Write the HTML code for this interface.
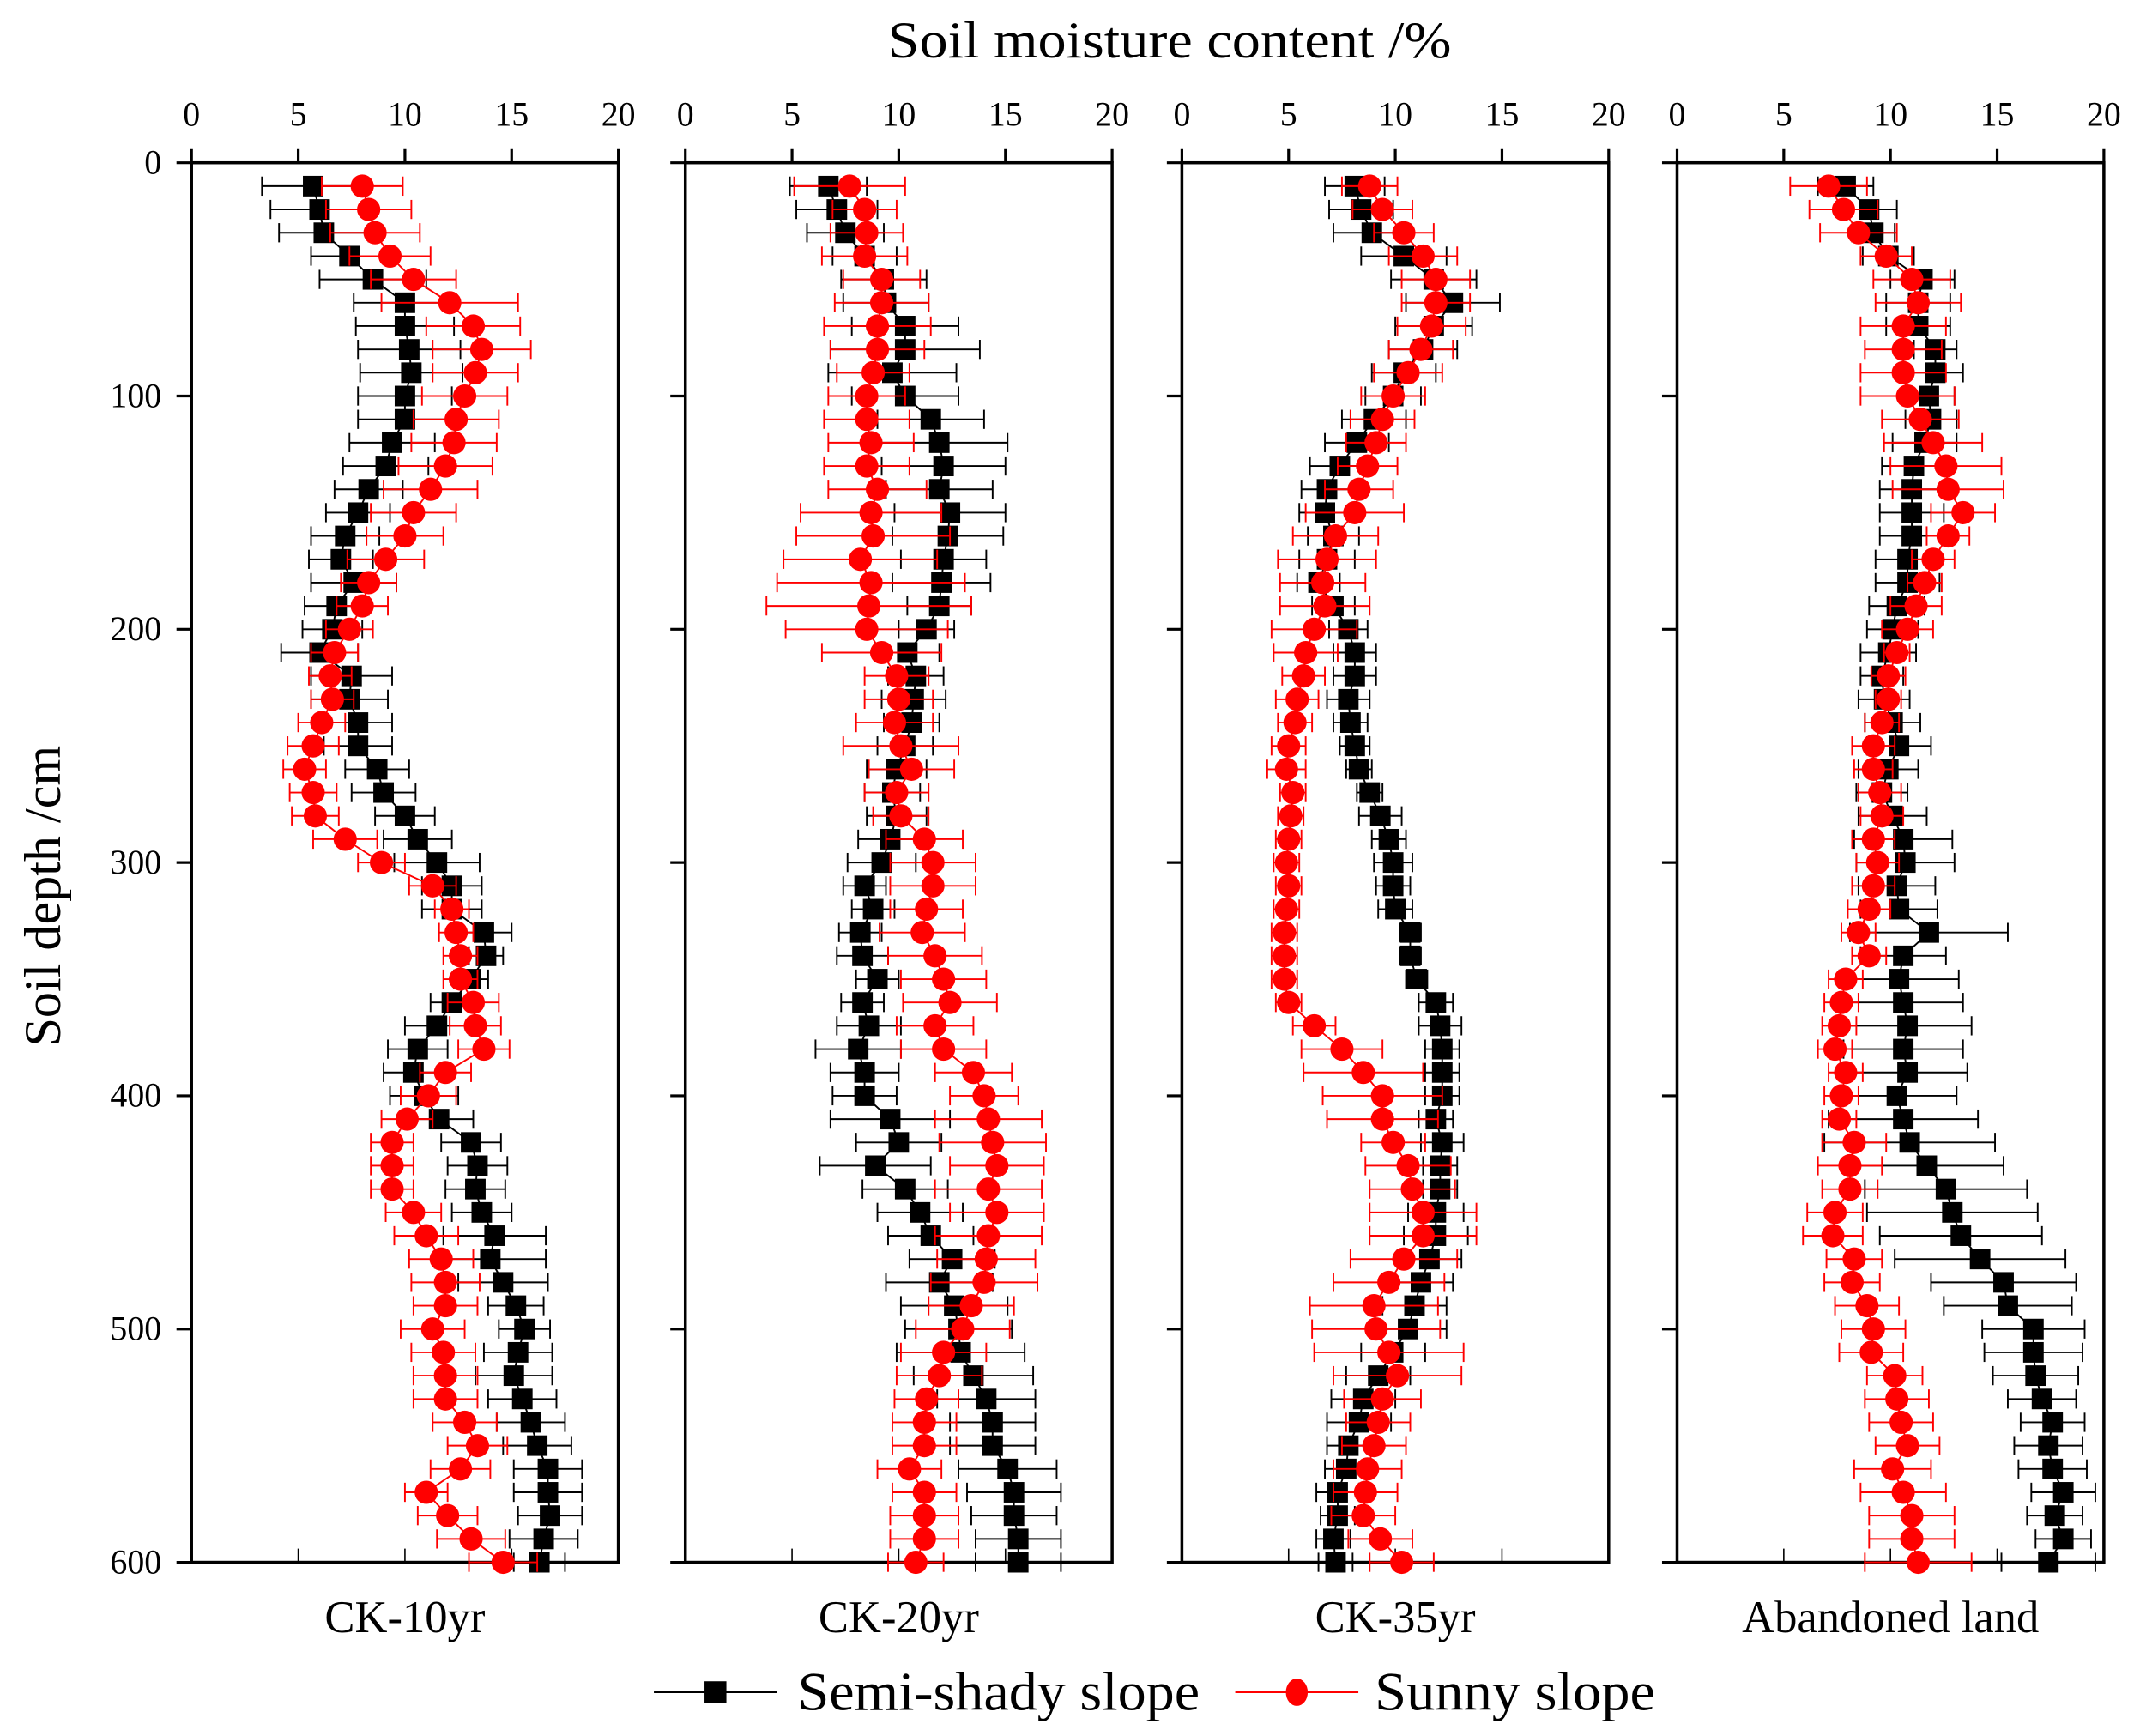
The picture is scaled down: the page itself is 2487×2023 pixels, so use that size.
<!DOCTYPE html>
<html><head><meta charset="utf-8"><style>
html,body{margin:0;padding:0;background:#fff}
svg{display:block}
text{font-family:"Liberation Serif",serif;fill:#000}
</style></head><body>
<svg id="chart" width="2487" height="2023" viewBox="0 0 1560 1269" xmlns="http://www.w3.org/2000/svg">
<text x="855" y="42" font-size="38" text-anchor="middle" textLength="412" lengthAdjust="spacingAndGlyphs">Soil moisture content /%</text>
<text transform="translate(44,655) rotate(-90)" font-size="38" text-anchor="middle" textLength="220" lengthAdjust="spacingAndGlyphs">Soil depth /cm</text>
<g id="plots"></g>
<g>
<line x1="478" y1="1237" x2="568" y2="1237" stroke="#000" stroke-width="1.2"/>
<rect x="515" y="1229" width="16" height="16" fill="#000"/>
<text x="583" y="1250" font-size="40" textLength="294" lengthAdjust="spacingAndGlyphs">Semi-shady slope</text>
<line x1="903" y1="1237" x2="993" y2="1237" stroke="#f00" stroke-width="1.2"/>
<ellipse cx="948" cy="1237" rx="8" ry="10" fill="#f00"/>
<text x="1005" y="1250" font-size="40" textLength="205" lengthAdjust="spacingAndGlyphs">Sunny slope</text>
</g>
</svg>
<script>
const panelNames = ["CK-10yr","CK-20yr","CK-35yr","Abandoned land"];
const xTicks = [0,5,10,15,20];
const yTicks = [0,100,200,300,400,500,600];
const depths = [10,20,30,40,50,60,70,80,90,100,110,120,130,140,150,160,170,180,190,200,210,220,230,240,250,260,270,280,290,300,310,320,330,340,350,360,370,380,390,400,410,420,430,440,450,460,470,480,490,500,510,520,530,540,550,560,570,580,590,600];
const shady1 = [5.7,6.0,6.2,7.4,8.5,10.0,10.0,10.2,10.3,10.0,10.0,9.4,9.1,8.3,7.8,7.2,7.0,7.6,6.8,6.6,6.0,7.5,7.4,7.8,7.8,8.7,9.0,10.0,10.6,11.5,12.2,12.2,13.7,13.8,13.1,12.2,11.5,10.6,10.4,10.9,11.6,13.1,13.4,13.3,13.6,14.2,14.0,14.6,15.2,15.6,15.3,15.1,15.5,15.9,16.2,16.7,16.7,16.8,16.5,16.3];
const sunny1 = [8.0,8.3,8.6,9.3,10.4,12.1,13.2,13.6,13.3,12.8,12.4,12.3,11.9,11.2,10.4,10.0,9.1,8.3,8.0,7.4,6.7,6.5,6.6,6.1,5.7,5.3,5.7,5.8,7.2,8.9,11.3,12.2,12.4,12.6,12.6,13.2,13.3,13.7,11.9,11.1,10.1,9.4,9.4,9.4,10.4,11.0,11.7,11.9,11.9,11.3,11.8,11.9,11.9,12.8,13.4,12.6,11.0,12.0,13.1,14.6];
const shady2 = [6.7,7.1,7.5,8.4,9.3,9.4,10.3,10.3,9.7,10.3,11.5,11.9,12.1,11.9,12.4,12.3,12.1,12.0,11.9,11.3,10.4,10.8,10.7,10.6,10.3,9.9,9.7,9.9,9.6,9.2,8.4,8.8,8.2,8.3,9.0,8.3,8.6,8.1,8.4,8.4,9.6,10.0,8.9,10.3,11.0,11.5,12.5,11.9,12.6,12.8,12.9,13.5,14.1,14.4,14.4,15.1,15.4,15.4,15.6,15.6];
const sunny2 = [7.7,8.4,8.5,8.4,9.2,9.2,9.0,9.0,8.8,8.5,8.5,8.7,8.5,9.0,8.7,8.8,8.2,8.7,8.6,8.5,9.2,9.9,10.0,9.8,10.1,10.6,9.9,10.1,11.2,11.6,11.6,11.3,11.1,11.7,12.1,12.4,11.7,12.1,13.5,14.0,14.2,14.4,14.6,14.2,14.6,14.2,14.1,14.0,13.4,13.0,12.1,11.9,11.3,11.2,11.2,10.5,11.2,11.2,11.2,10.8];
const shady3 = [8.1,8.4,8.9,10.4,11.8,12.7,11.8,11.3,10.4,9.9,9.0,8.2,7.4,6.8,6.7,7.1,6.8,6.4,7.1,7.8,8.1,8.1,7.8,7.9,8.1,8.3,8.8,9.3,9.7,9.9,9.9,10.0,10.7,10.7,11.0,11.9,12.1,12.2,12.2,12.2,11.9,12.2,12.1,12.1,11.9,11.9,11.6,11.2,10.9,10.6,9.9,9.2,8.5,8.3,7.8,7.7,7.3,7.3,7.1,7.2];
const sunny3 = [8.8,9.4,10.4,11.3,11.9,11.9,11.7,11.2,10.6,9.9,9.4,9.1,8.7,8.3,8.1,7.2,6.8,6.6,6.7,6.2,5.8,5.7,5.4,5.3,5.0,4.9,5.2,5.1,5.0,4.9,5.0,4.9,4.8,4.8,4.8,5.0,6.2,7.5,8.5,9.4,9.4,9.9,10.6,10.8,11.3,11.3,10.4,9.7,9.0,9.1,9.7,10.1,9.4,9.2,9.0,8.7,8.6,8.5,9.3,10.3];
const shady4 = [7.9,9.0,9.2,9.9,11.5,11.3,11.3,12.1,12.1,11.8,11.9,11.6,11.1,11.0,11.0,11.0,10.8,10.8,10.3,10.1,9.9,9.6,9.7,10.1,10.4,9.9,9.6,10.1,10.6,10.7,10.3,10.4,11.8,10.6,10.4,10.6,10.8,10.6,10.8,10.3,10.6,10.9,11.7,12.6,12.9,13.3,14.2,15.3,15.5,16.7,16.7,16.8,17.1,17.6,17.4,17.6,18.1,17.7,18.1,17.4];
const sunny4 = [7.1,7.8,8.5,9.8,11.0,11.3,10.6,10.6,10.6,10.8,11.4,12.0,12.6,12.7,13.4,12.7,12.0,11.6,11.2,10.8,10.3,9.9,9.9,9.6,9.2,9.2,9.5,9.6,9.2,9.4,9.2,9.0,8.5,9.0,7.9,7.7,7.6,7.4,7.9,7.7,7.6,8.3,8.1,8.1,7.4,7.3,8.3,8.2,8.9,9.2,9.1,10.2,10.3,10.5,10.8,10.1,10.6,11.0,11.0,11.3];
const shadyErr1 = [2.4,2.3,2.1,1.8,2.5,2.4,2.3,2.4,2.4,2.2,2.2,2.0,2.0,1.6,1.5,1.6,1.5,2.0,1.5,1.4,1.8,1.9,1.8,1.6,1.6,1.5,1.5,1.4,1.6,2.0,1.4,1.4,1.3,0.8,0.8,1.0,1.5,1.4,1.4,1.6,1.6,1.4,1.4,1.4,1.4,2.4,2.6,2.1,1.3,1.2,1.6,1.8,1.6,1.6,1.6,1.6,1.6,1.5,1.6,1.2];
const sunnyErr1 = [1.9,2.0,2.1,1.9,2.0,3.2,2.2,2.3,2.0,2.0,2.0,2.0,2.2,2.2,2.0,1.8,1.8,1.3,1.2,1.1,1.1,1.0,1.0,1.1,1.2,1.0,1.1,1.1,1.5,1.1,1.1,0.8,0.8,0.8,0.8,1.2,1.2,1.2,1.2,1.3,1.2,1.0,1.0,1.0,1.3,1.5,1.5,1.6,1.5,1.5,1.5,1.5,1.5,1.5,1.4,1.4,1.0,1.4,1.6,1.6];
const shadyErr2 = [1.8,1.9,1.8,1.5,2.0,2.0,2.5,3.5,3.0,2.5,2.5,3.2,2.9,2.5,2.6,2.6,2.0,2.3,1.5,1.3,1.5,1.3,1.5,1.3,1.3,1.4,1.3,1.4,1.5,1.6,1.0,1.0,1.0,1.2,1.0,1.0,1.5,2.0,1.6,1.5,2.8,2.0,2.6,2.0,2.0,2.0,2.0,2.5,2.5,2.5,3.0,2.8,2.3,2.0,2.0,2.3,2.2,2.0,2.0,2.0];
const sunnyErr2 = [2.6,1.5,1.7,2.0,1.8,2.2,2.5,2.2,1.7,1.8,2.0,2.0,2.0,2.3,3.3,3.6,3.6,4.4,4.8,3.8,2.8,1.5,1.6,1.8,2.7,2.0,1.5,1.3,1.8,2.0,2.0,1.7,2.0,2.2,2.0,2.2,1.8,2.0,1.8,1.6,2.5,2.5,2.2,2.5,2.2,2.5,2.3,2.5,2.0,2.2,2.0,2.0,1.5,1.5,1.5,1.5,1.5,1.6,1.6,1.3];
const shadyErr3 = [1.4,1.5,1.8,2.0,2.0,2.2,1.8,1.6,1.5,1.3,1.5,1.5,1.4,1.2,1.2,1.2,1.3,1.0,1.0,0.9,1.0,1.0,1.0,0.8,0.7,0.6,0.6,1.0,0.8,0.9,0.8,0.8,0.5,0.5,0.5,0.8,1.0,0.8,0.8,0.8,0.8,1.0,0.8,0.8,1.3,1.5,1.5,1.5,1.5,1.8,1.5,1.5,1.5,1.5,1.0,1.0,1.0,0.8,0.8,0.8];
const sunnyErr3 = [1.3,1.4,1.4,1.6,1.6,1.6,1.6,1.5,1.6,1.5,1.5,1.4,1.4,1.6,2.3,2.0,2.3,2.0,2.1,2.0,1.5,1.0,1.0,0.8,0.8,0.9,0.6,0.6,0.6,0.6,0.6,0.6,0.6,0.6,0.6,0.6,1.0,1.9,2.8,2.8,2.6,1.5,2.0,2.0,2.5,2.5,2.5,2.6,3.0,3.0,3.5,3.0,1.8,1.5,1.5,1.6,1.5,1.5,1.5,1.5];
const shadyErr4 = [1.3,1.3,1.0,1.2,1.5,1.5,1.5,1.0,1.3,1.2,1.2,1.5,1.5,1.5,1.5,1.5,1.5,1.5,1.3,1.2,1.3,1.0,1.2,1.3,1.5,1.4,1.2,1.6,2.3,2.3,1.8,1.8,3.7,2.0,2.8,2.8,3.0,2.8,2.8,2.8,3.5,4.0,3.6,3.8,4.0,3.8,4.0,3.4,3.0,2.4,2.3,2.0,1.6,1.5,1.6,1.6,1.5,1.3,1.3,2.2];
const sunnyErr4 = [1.8,1.6,1.8,1.2,1.8,2.0,2.0,1.8,2.0,2.2,1.8,2.3,2.6,2.6,1.5,1.0,1.0,0.8,1.2,1.2,0.6,0.8,0.6,0.8,1.0,0.9,1.0,1.0,1.0,1.0,1.0,1.0,0.8,0.8,0.8,0.8,0.8,0.8,0.8,0.8,0.8,1.5,1.5,1.3,1.3,1.4,1.3,1.3,1.5,1.5,1.5,1.3,1.5,1.5,1.5,1.8,2.0,2.0,2.0,2.5];

const shadySeries = [shady1,shady2,shady3,shady4];
const sunnySeries = [sunny1,sunny2,sunny3,sunny4];
const shadyErrs = [shadyErr1,shadyErr2,shadyErr3,shadyErr4];
const sunnyErrs = [sunnyErr1,sunnyErr2,sunnyErr3,sunnyErr4];

(function(){
const NS = "http://www.w3.org/2000/svg";
const panelLeft = [140,501,864,1226];
const panelW = 312, plotTop = 119, plotBottom = 1142;
const xScale = (p,v) => panelLeft[p] + v / 20 * panelW;
const yScale = d => plotTop + d / 600 * (plotBottom - plotTop);
const root = document.getElementById('plots');
function mk(tag, attrs, parent){
  const e = document.createElementNS(NS, tag);
  for (const k in attrs) e.setAttribute(k, attrs[k]);
  parent.appendChild(e);
  return e;
}
for (let p = 0; p < 4; p++) {
  const g = mk('g', {}, root);
  
  
  const L = panelLeft[p];
  mk('rect', {x:L, y:plotTop, width:panelW, height:plotBottom-plotTop, fill:'none', stroke:'#000', 'stroke-width':2.2}, g);
  xTicks.forEach(t => {
    const x = xScale(p, t);
    mk('line', {x1:x, y1:plotTop, x2:x, y2:plotTop-10, stroke:'#000', 'stroke-width':2}, g);
    mk('line', {x1:x, y1:plotBottom, x2:x, y2:plotBottom-10, stroke:'#000', 'stroke-width':1}, g);
    const tx = mk('text', {x:x, y:plotTop-27, 'font-size':25, 'text-anchor':'middle'}, g);
    
    
    tx.textContent = t;
  });
  yTicks.forEach(t => {
    const y = yScale(t);
    mk('line', {x1:L, y1:y, x2:L-11, y2:y, stroke:'#000', 'stroke-width':2}, g);
    if (p === 0) {
      const ty = mk('text', {x:L-22, y:y+8, 'font-size':25, 'text-anchor':'end'}, g);
      
      
      ty.textContent = t;
    }
  });
  const lab = mk('text', {x:L + panelW/2, y:1193, 'font-size':33, 'text-anchor':'middle'}, g);
  
  
  lab.textContent = panelNames[p];

  const drawSeries = (vals, errs, color, shape, name) => {
    const sg = mk('g', {}, g);
    
    
    const pts = vals.map((v,i) => xScale(p, v).toFixed(1) + ',' + yScale(depths[i]).toFixed(1)).join(' ');
    mk('polyline', {points:pts, fill:'none', stroke:color, 'stroke-width':1.2}, sg);
    vals.forEach((v,i) => {
      const y = yScale(depths[i]);
      const x1 = xScale(p, v - errs[i]), x2 = xScale(p, Math.min(v + errs[i], 20));
      mk('line', {x1:x1, y1:y, x2:x2, y2:y, stroke:color, 'stroke-width':1.2}, sg);
      mk('line', {x1:x1, y1:y-7, x2:x1, y2:y+7, stroke:color, 'stroke-width':1.2}, sg);
      mk('line', {x1:x2, y1:y-7, x2:x2, y2:y+7, stroke:color, 'stroke-width':1.2}, sg);
    });
    vals.forEach((v,i) => {
      const x = xScale(p, v), y = yScale(depths[i]);
      let m;
      if (shape === 'sq') m = mk('rect', {x:x-7.5, y:y-7.5, width:15, height:15, fill:color}, sg);
      else m = mk('circle', {cx:x, cy:y, r:8.5, fill:color}, sg);
      
      
    });
  };
  drawSeries(shadySeries[p], shadyErrs[p], '#000', 'sq', 'semi-shady-series');
  drawSeries(sunnySeries[p], sunnyErrs[p], '#f00', 'ci', 'sunny-series');
}
})();
</script>
</body></html>
